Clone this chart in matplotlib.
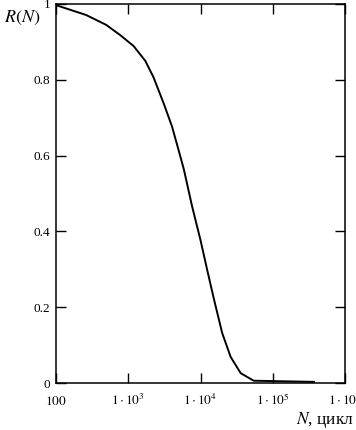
import matplotlib
matplotlib.use("Agg")
import matplotlib.pyplot as plt
import numpy as np

plt.rcParams['font.family'] = ['Liberation Serif', 'DejaVu Serif']
plt.rcParams['mathtext.fontset'] = 'stix'

# data
N = [100, 261, 494, 774, 1186, 1722, 2244, 3090, 4046, 5272, 5861, 7674, 10000,
     12390, 15310, 19950, 26120, 35970, 54450, 371500]
R = [0.997, 0.971, 0.945, 0.918, 0.889, 0.850, 0.806, 0.738, 0.676, 0.597, 0.565,
     0.465, 0.377, 0.298, 0.222, 0.132, 0.069, 0.026, 0.006, 0.003]

xticks = [100, 1e3, 1e4, 1e5, 1e6]
xticklabels = [r'$100$', r'$1\cdot10^{3}$', r'$1\cdot10^{4}$', r'$1\cdot10^{5}$', r'$1\cdot10^{6}$']
yticks = [0, 0.2, 0.4, 0.6, 0.8, 1]
yticklabels = ['0', '0.2', '0.4', '0.6', '0.8', '1']

fig = plt.figure(figsize=(3.56, 4.30), dpi=100)
ax = fig.add_axes([56/356, 47/430, 289/356, 379/430])
ax.plot(N, R, color='black', lw=1.4)
ax.set_xscale('log')
ax.set_xlim(100, 1e6)
ax.set_ylim(0, 1)
ax.set_xticks(xticks)
ax.set_xticklabels(xticklabels)
ax.set_yticks(yticks)
ax.set_yticklabels(yticklabels)
ax.minorticks_off()
ax.tick_params(axis='both', direction='in', length=7, width=1, labelsize=9.5,
               top=True, right=True)
ax.tick_params(axis='x', pad=16)
ax.tick_params(axis='y', pad=4)
for lbl in ax.get_xticklabels():
    lbl.set_verticalalignment('baseline')
for s in ax.spines.values():
    s.set_linewidth(1.1)

fig.text(4/356, 1 - 18/430, r'$R(N)$', fontsize=13, ha='left', va='center')
fig.text(354/356, 1 - 420/430, r'$N$, цикл', fontsize=12.5, ha='right', va='center')

fig.savefig('out.png', dpi=100)
